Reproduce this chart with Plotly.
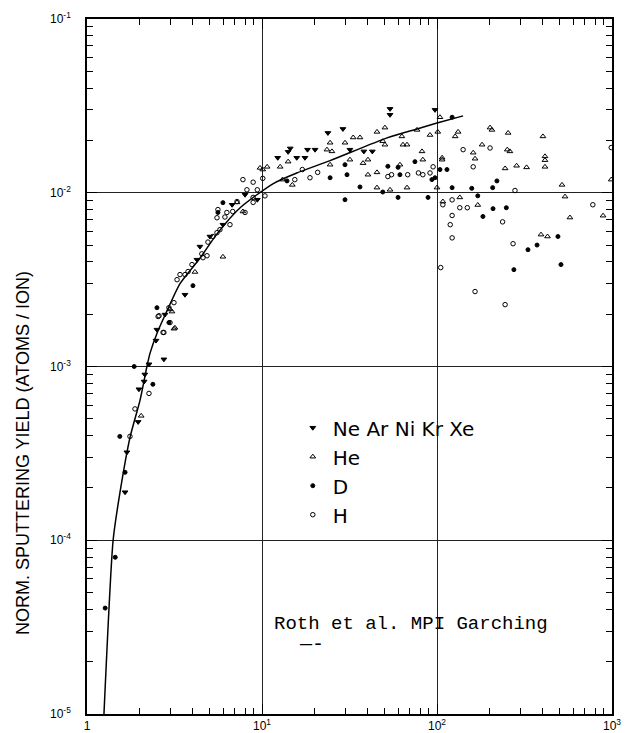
import plotly.graph_objects as go

# ---- data ----
heavy_x = [1.69, 1.65, 1.96, 1.98, 2.12, 2.14, 2.26, 2.75, 2.48, 2.51, 2.79, 3.63, 4.25, 4.42, 5.98, 9.4,
           12.3, 14.1, 14.5, 15.8, 17.6, 18.2, 20.1, 23.8, 29.0, 31.8, 38.2, 42.7, 53.9, 53.9, 97.4,
           5.04, 6.75, 8.0]
heavy_y = [3.21e-4, 1.89e-4, 4.8e-4, 7.4e-4, 8.2e-4, 9.0e-4, 1.03e-3, 1.10e-3, 1.41e-3, 1.63e-3, 1.99e-3,
           2.59e-3, 4.12e-3, 4.9e-3, 6.55e-3, 9.12e-3,
           1.59e-2, 1.72e-2, 1.80e-2, 1.59e-2, 1.59e-2, 1.77e-2, 1.77e-2, 2.21e-2, 2.33e-2, 1.77e-2, 1.73e-2,
           1.73e-2, 3.04e-2, 2.81e-2, 3.0e-2,
           5.6e-3, 8.53e-3, 9.74e-3]

he_x = [2.04, 3.14, 3.06, 2.98, 3.18, 4.14, 5.98, 7.78, 7.2, 10.1, 10.7, 12.7, 14.1, 14.9, 23.5, 24.5, 25.1,
        29.8, 33.2, 36.3, 45.4, 50.4, 49.0, 50.4, 63.0, 63.9, 67.4, 76.9, 91.2, 101, 104, 82.1, 83.0, 31.8,
        40.3, 61.4, 107, 24.5, 37.8, 40.3, 45.4, 45.4, 53.9, 67.4, 100, 108, 127, 132, 201, 206, 255, 403,
        181, 161, 165, 252, 261, 414, 414, 107, 245, 285, 325, 414, 518, 990, 539, 575, 135, 171, 393, 428,
        889, 9.74, 13.1]
he_y = [5.2e-4, 1.65e-3, 2.07e-3, 2.13e-3, 1.67e-3, 3.5e-3, 4.28e-3, 7.8e-3, 8.8e-3, 1.36e-2, 1.41e-2,
        1.41e-2, 1.51e-2, 1.11e-2, 1.77e-2, 1.94e-2, 1.73e-2, 1.94e-2, 2.08e-2, 2.08e-2, 2.24e-2, 2.37e-2,
        1.98e-2, 1.89e-2, 2.11e-2, 1.89e-2, 1.89e-2, 2.30e-2, 2.15e-2, 2.24e-2, 2.72e-2, 1.73e-2, 1.55e-2,
        1.55e-2, 1.55e-2, 1.45e-2, 1.55e-2, 1.45e-2, 1.48e-2, 1.27e-2, 1.31e-2, 1.07e-2, 1.04e-2, 1.07e-2,
        1.07e-2, 8.9e-3, 2.11e-2, 2.24e-2, 2.37e-2, 2.30e-2, 2.21e-2, 2.11e-2, 1.89e-2, 1.70e-2, 1.57e-2,
        1.77e-2, 1.73e-2, 1.62e-2, 1.54e-2, 1.59e-2, 1.38e-2, 1.43e-2, 1.40e-2, 1.41e-2, 1.11e-2, 1.19e-2,
        9.5e-3, 7.2e-3, 9.4e-3, 8.5e-3, 5.74e-3, 5.6e-3, 7.38e-3, 1.39e-2, 1.19e-2]

d_x = [1.65, 1.45, 1.27, 1.54, 2.38, 1.86, 2.94, 2.51, 4.03, 5.98, 5.6, 74.8, 29.8, 52.4, 59.9, 97.4, 61.4,
       30.6, 36.3, 49.0, 29.8, 59.9, 88.9, 104, 114, 220, 93.5, 122, 158, 208, 171, 183, 209, 249, 331, 373,
       491, 275, 511, 122, 24.5, 13.9]
d_y = [2.46e-4, 7.98e-5, 4.07e-5, 3.96e-4, 7.9e-4, 1.0e-3, 1.79e-3, 2.18e-3, 2.92e-3, 8.77e-3, 7.7e-3,
       1.51e-2, 1.45e-2, 1.42e-2, 1.40e-2, 1.22e-2, 1.27e-2, 1.27e-2, 1.08e-2, 1.01e-2, 9.12e-3, 9.4e-3,
       9.4e-3, 1.36e-2, 1.36e-2, 1.17e-2, 1.19e-2, 1.07e-2, 1.06e-2, 1.07e-2, 9.6e-3, 7.3e-3, 8.1e-3,
       8.2e-3, 4.7e-3, 5.0e-3, 5.6e-3, 3.61e-3, 3.86e-3, 2.72e-2, 1.22e-2, 1.17e-2]

h_x = [1.76, 1.88, 2.26, 2.75, 2.58, 2.94, 3.14, 2.55, 2.72, 2.98, 3.27, 3.40, 3.63, 3.78, 3.98, 4.6, 4.53,
       4.85, 4.91, 5.24, 5.53, 5.75, 5.53, 6.14, 6.56, 5.6, 6.3, 6.8, 8.0, 8.9, 7.78, 8.9, 10.1, 9.4, 8.2,
       7.2, 8.9, 10.4, 20.8, 18.8, 15.4, 17.0, 95.0, 91.2, 78.3, 83.0, 52.4, 55.0, 68.0, 141, 201, 161, 279,
       108, 122, 135, 149, 122, 119, 122, 237, 272, 105, 165, 245, 777, 990]
h_y = [3.96e-4, 5.7e-4, 7.0e-4, 1.57e-3, 1.96e-3, 2.18e-3, 2.33e-3, 1.94e-3, 1.57e-3, 1.79e-3, 3.16e-3,
       3.38e-3, 3.38e-3, 3.52e-3, 3.86e-3, 4.23e-3, 4.45e-3, 4.34e-3, 5.2e-3, 5.6e-3, 5.89e-3, 6.13e-3,
       7.18e-3, 7.25e-3, 6.55e-3, 8.0e-3, 7.7e-3, 7.8e-3, 7.7e-3, 8.8e-3, 1.19e-2, 1.15e-2, 1.21e-2,
       1.04e-2, 1.04e-2, 8.9e-3, 9.4e-3, 9.6e-3, 1.31e-2, 1.22e-2, 1.19e-2, 1.36e-2, 1.41e-2, 1.30e-2,
       1.30e-2, 1.27e-2, 1.24e-2, 1.27e-2, 1.27e-2, 1.77e-2, 1.81e-2, 1.41e-2, 1.03e-2, 8.53e-3, 9.1e-3,
       8.2e-3, 8.2e-3, 7.4e-3, 6.55e-3, 5.5e-3, 6.8e-3, 5.09e-3, 3.71e-3, 2.7e-3, 2.27e-3, 8.53e-3, 1.82e-2]

fit_x = [1.25, 1.41, 1.54, 1.76, 2.01, 2.2, 2.29, 2.51, 2.87, 3.4, 4.42, 5.53, 7.5, 11.6, 15.8, 24.5, 51.8,
         76.9, 100, 141]
fit_y = [1e-5, 1e-4, 1.86e-4, 3.9e-4, 6.4e-4, 1e-3, 1.19e-3, 1.55e-3, 2.1e-3, 3.0e-3, 4.2e-3, 5.8e-3,
         8.2e-3, 1.13e-2, 1.30e-2, 1.53e-2, 2.07e-2, 2.33e-2, 2.52e-2, 2.77e-2]

x_ticks = [1, 10, 100, 1000]
x_ticktext = ["1", "10<sup>1</sup>", "10<sup>2</sup>", "10<sup>3</sup>"]
y_ticks = [1e-5, 1e-4, 1e-3, 1e-2, 1e-1]
y_ticktext = ["10<sup>-5</sup>", "10<sup>-4</sup>", "10<sup>-3</sup>", "10<sup>-2</sup>", "10<sup>-1</sup>"]

series_names = ["Ne Ar Ni Kr Xe", "He", "D", "H"]

fig = go.Figure()

fig.add_trace(go.Scatter(x=fit_x, y=fit_y, mode="lines", line=dict(color="black", width=1.5, shape="spline",
                                                                     smoothing=0.6),
                         showlegend=False, hoverinfo="skip"))

specs = [
    (heavy_x, heavy_y, "triangle-down", series_names[0], 5),
    (he_x, he_y, "triangle-up-open", series_names[1], 5),
    (d_x, d_y, "circle", series_names[2], 4),
    (h_x, h_y, "circle-open", series_names[3], 4.5),
]
for xs, ys, sym, name, sz in specs:
    fig.add_trace(go.Scatter(x=xs, y=ys, mode="markers", name=name,
                             marker=dict(symbol=sym, size=sz, color="black", line=dict(color="black", width=1))))

axis_common = dict(type="log", showline=True, linecolor="black", linewidth=1.6, mirror="allticks",
                   ticks="inside", ticklen=10, tickcolor="black", tickwidth=1.2, automargin=False,
                   showgrid=True, gridcolor="#222", gridwidth=1, zeroline=False,
                   tickfont=dict(family="Liberation Sans", size=12, color="black"),
                   minor=dict(ticks="inside", ticklen=6, tickcolor="black", dtick="D1", showgrid=False))

fig.update_xaxes(range=[0, 3], tickvals=x_ticks, ticktext=x_ticktext, **axis_common)
fig.update_yaxes(range=[-5, -1], tickvals=y_ticks, ticktext=y_ticktext, ticklabelstandoff=12, **axis_common)

fig.add_annotation(text="NORM. SPUTTERING YIELD (ATOMS / ION)", textangle=-90, showarrow=False,
                   xref="paper", yref="paper", x=-0.123, y=0.376, xanchor="center", yanchor="middle",
                   font=dict(family="Liberation Sans", size=18, color="black"))

fig.add_annotation(text="Roth et al. MPI Garching", showarrow=False, xref="paper", yref="paper",
                   x=0.352, y=0.13, xanchor="left", yanchor="middle",
                   font=dict(family="Liberation Mono", size=19, color="black"))
fig.add_annotation(text="—‐", showarrow=False, xref="paper", yref="paper",
                   x=0.40, y=0.10, xanchor="left", yanchor="middle",
                   font=dict(family="Liberation Mono", size=20, color="black"))

fig.update_layout(
    width=625, height=733,
    margin=dict(l=87, r=13, t=19, b=19, autoexpand=False),
    paper_bgcolor="white", plot_bgcolor="white",
    showlegend=True,
    legend=dict(x=0.392, y=0.44, xanchor="left", yanchor="top", bgcolor="rgba(0,0,0,0)",
                font=dict(family="DejaVu Sans", size=20, color="black"), itemwidth=30,
                tracegroupgap=0),
)

fig.write_html("out.html")
